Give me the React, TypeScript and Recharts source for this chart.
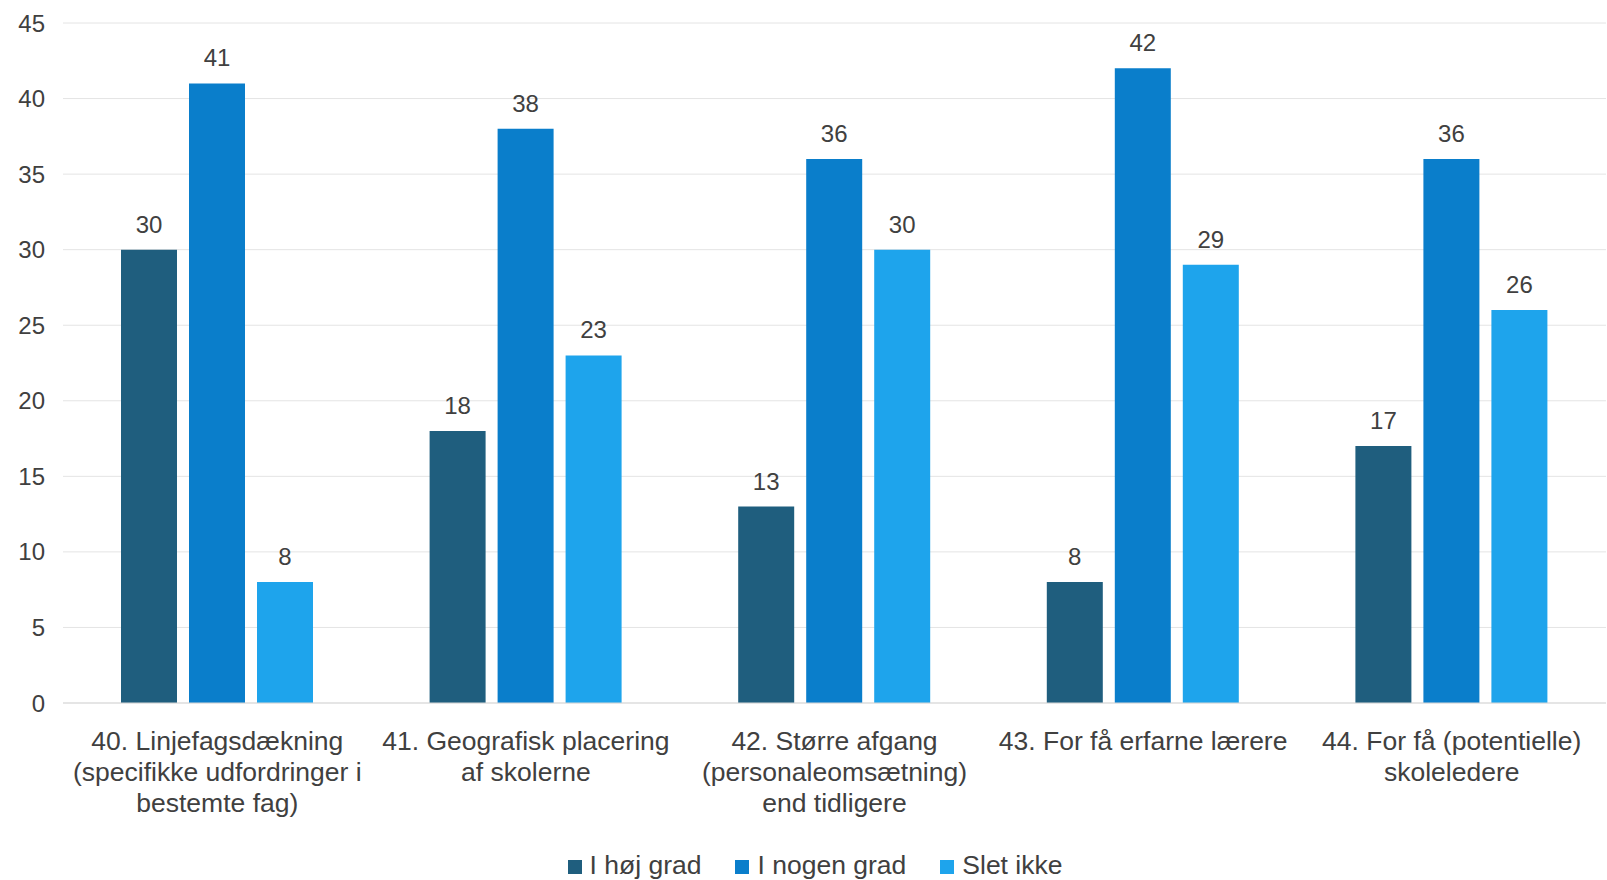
import React from 'react';
import { BarChart, Bar, XAxis, YAxis, CartesianGrid, Legend, LabelList } from 'recharts';

// category labels, already split into the lines shown under each group
const categoryLines: string[][] = [
  ['40. Linjefagsdækning', '(specifikke udfordringer i', 'bestemte fag)'],
  ['41. Geografisk placering', 'af skolerne'],
  ['42. Større afgang', '(personaleomsætning)', 'end tidligere'],
  ['43. For få erfarne lærere'],
  ['44. For få (potentielle)', 'skoleledere'],
];

const hojGrad = [30, 18, 13, 8, 17];
const nogenGrad = [41, 38, 36, 42, 36];
const sletIkke = [8, 23, 30, 29, 26];

const yTicks = [0, 5, 10, 15, 20, 25, 30, 35, 40, 45];

const data = categoryLines.map((lines, i) => ({
  name: lines.join(' '),
  hoj: hojGrad[i],
  nogen: nogenGrad[i],
  slet: sletIkke[i],
}));

const FONT = '"Liberation Sans", Arial, sans-serif';
const TEXT = '#404040';

const CategoryTick = (props: any) => {
  const { x, y, payload } = props;
  const lines = categoryLines[payload.index] ?? [String(payload.value)];
  return (
    <text x={x} y={y} textAnchor="middle" fill={TEXT} fontSize={26.5} fontFamily={FONT}>
      {lines.map((l, i) => (
        <tspan key={i} x={x} dy={i === 0 ? 39 : 31}>
          {l}
        </tspan>
      ))}
    </text>
  );
};

const labelStyle = { fill: TEXT, fontSize: 24, fontFamily: FONT };

export default function App() {
  return (
    <div style={{ position: 'absolute', left: 0, top: 0, width: 1607, height: 880, background: '#fff' }}>
      <BarChart
        width={1607}
        height={880}
        data={data}
        margin={{ top: 23, right: 1, left: 0, bottom: 0 }}
        barGap={12}
        barCategoryGap={58}
      >
        <CartesianGrid vertical={false} stroke="#e4e4e4" />
        <XAxis
          dataKey="name"
          tick={<CategoryTick />}
          tickLine={false}
          axisLine={{ stroke: '#d9d9d9' }}
          height={147}
          interval={0}
        />
        <YAxis
          width={63}
          domain={[0, 45]}
          ticks={yTicks}
          tickLine={false}
          axisLine={false}
          tickMargin={12}
          tick={{ fill: TEXT, fontSize: 24, fontFamily: FONT }}
        />
        <Legend
          verticalAlign="bottom"
          height={30}
          iconType="square"
          iconSize={14}
          wrapperStyle={{ fontFamily: FONT, fontSize: 26.5, color: TEXT, paddingLeft: 29 }}
          formatter={(v) => <span style={{ color: TEXT, marginLeft: 4, marginRight: 24 }}>{v}</span>}
        />
        <Bar dataKey="hoj" name="I høj grad" fill="#1f5e7e" isAnimationActive={false}>
          <LabelList dataKey="hoj" position="top" offset={17} style={labelStyle} />
        </Bar>
        <Bar dataKey="nogen" name="I nogen grad" fill="#0a7ecb" isAnimationActive={false}>
          <LabelList dataKey="nogen" position="top" offset={17} style={labelStyle} />
        </Bar>
        <Bar dataKey="slet" name="Slet ikke" fill="#1ea4ec" isAnimationActive={false}>
          <LabelList dataKey="slet" position="top" offset={17} style={labelStyle} />
        </Bar>
      </BarChart>
    </div>
  );
}
